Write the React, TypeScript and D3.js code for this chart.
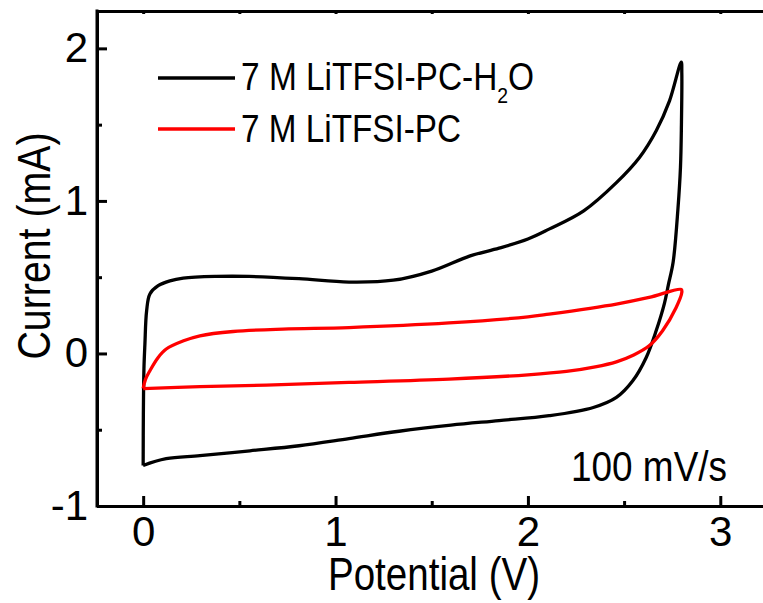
import React, { useEffect, useRef } from "react";
import * as d3 from "d3";

// 7 M LiTFSI-PC-H2O loop (potential in V, current in mA)
const h2oV = [0, 0.001, 0.004, 0.009, 0.018, 0.035, 0.078, 0.139, 0.208, 0.38, 0.55, 0.81, 1.07, 1.3, 1.5, 1.7, 1.85, 2.0, 2.11, 2.29, 2.46, 2.58, 2.667, 2.736, 2.797, 2.8, 2.798, 2.793, 2.78, 2.755, 2.73, 2.71, 2.667, 2.615, 2.545, 2.46, 2.34, 2.11, 1.85, 1.6, 1.33, 1.07, 0.81, 0.555, 0.295, 0.12, 0];
const h2oI = [-0.735, -0.4, -0.1, 0.06, 0.28, 0.39, 0.444, 0.476, 0.494, 0.505, 0.505, 0.49, 0.468, 0.48, 0.54, 0.64, 0.69, 0.75, 0.815, 0.935, 1.12, 1.285, 1.46, 1.656, 1.91, 1.84, 1.5, 1.22, 0.95, 0.6, 0.45, 0.33, 0.15, -0.026, -0.179, -0.288, -0.354, -0.408, -0.44, -0.47, -0.51, -0.558, -0.605, -0.638, -0.67, -0.69, -0.735];

// 7 M LiTFSI-PC loop
const pcV = [0, 0.012, 0.035, 0.078, 0.12, 0.21, 0.295, 0.468, 0.727, 1.07, 1.59, 2.0, 2.11, 2.46, 2.63, 2.797, 2.8, 2.77, 2.7, 2.63, 2.55, 2.46, 2.35, 2.2, 2.0, 1.59, 1.07, 0.64, 0.295, 0];
const pcI = [-0.23, -0.17, -0.113, -0.026, 0.029, 0.083, 0.116, 0.144, 0.16, 0.17, 0.2, 0.24, 0.258, 0.324, 0.367, 0.42, 0.4, 0.3, 0.149, 0.05, -0.01, -0.055, -0.088, -0.118, -0.14, -0.168, -0.19, -0.207, -0.218, -0.23];

const xMajor = [0, 1, 2, 3];
const xMinor = [0.5, 1.5, 2.5];
const yMajor = [-1, 0, 1, 2];
const yMinor = [-0.5, 0.5, 1.5];
const legendLabels = ["7 M LiTFSI-PC-H", "7 M LiTFSI-PC"];
const seriesColors = ["#000000", "#ff0000"];
const scanRate = "100 mV/s";

const font = "'Liberation Sans', Arial, Helvetica, sans-serif";

export default function App() {
  const svgRef = useRef<SVGSVGElement>(null);

  useEffect(() => {
    const width = 763;
    const height = 603;
    const svg = d3.select(svgRef.current);
    svg.selectAll("*").remove();

    const x = d3.scaleLinear().domain([-0.24, 3.3]).range([97, 778]);
    const y = d3.scaleLinear().domain([-1, 2.245]).range([506, 11]);

    const styleAxis = (g: any) => {
      g.attr("font-family", font).attr("font-size", 42);
      g.select(".domain").attr("stroke", "#000").attr("stroke-width", 3);
      g.selectAll(".tick line").attr("stroke", "#000").attr("stroke-width", 3);
      g.selectAll(".tick text").attr("fill", "#000");
    };

    // bottom axis
    svg.append("g")
      .attr("transform", `translate(0,${y.range()[0]})`)
      .call(d3.axisBottom(x).tickValues(xMajor).tickSize(-10).tickSizeOuter(0).tickPadding(10).tickFormat((d: any) => String(d)))
      .call(styleAxis);
    svg.append("g")
      .attr("transform", `translate(0,${y.range()[0]})`)
      .call(d3.axisBottom(x).tickValues(xMinor).tickSize(-5).tickSizeOuter(0).tickFormat(() => ""))
      .call(styleAxis)
      .call((g: any) => g.select(".domain").remove());

    // top axis
    svg.append("g")
      .attr("transform", `translate(0,${y.range()[1]})`)
      .call(d3.axisTop(x).tickValues([...xMajor, ...xMinor]).tickSize(-3).tickSizeOuter(0).tickFormat(() => ""))
      .call(styleAxis);

    // left axis
    svg.append("g")
      .attr("transform", `translate(${x.range()[0]},0)`)
      .call(d3.axisLeft(y).tickValues(yMajor).tickSize(-10).tickSizeOuter(0).tickPadding(9).tickFormat((d: any) => String(d)))
      .call(styleAxis);
    svg.append("g")
      .attr("transform", `translate(${x.range()[0]},0)`)
      .call(d3.axisLeft(y).tickValues(yMinor).tickSize(-5).tickSizeOuter(0).tickFormat(() => ""))
      .call(styleAxis)
      .call((g: any) => g.select(".domain").remove());

    // square off the frame corners
    svg.append("path")
      .attr("d", `M${x.range()[0]},${y.range()[0]}V${y.range()[1]}`)
      .attr("stroke", "#000").attr("stroke-width", 3).attr("stroke-linecap", "square");

    // curves
    const drawLoop = (vs: number[], is: number[], color: string) => {
      const line = d3.line<number>()
        .x(i => x(vs[i]))
        .y(i => y(is[i]))
        .curve(d3.curveCatmullRom.alpha(0.5));
      svg.append("path")
        .datum(d3.range(vs.length))
        .attr("fill", "none")
        .attr("stroke", color)
        .attr("stroke-width", 3.3)
        .attr("stroke-linejoin", "round")
        .attr("d", line);
    };
    drawLoop(h2oV, h2oI, seriesColors[0]);
    drawLoop(pcV, pcI, seriesColors[1]);

    // legend
    const legendY = [78, 129];
    legendY.forEach((ly, k) => {
      svg.append("line")
        .attr("x1", 158).attr("x2", 235)
        .attr("y1", ly).attr("y2", ly)
        .attr("stroke", seriesColors[k])
        .attr("stroke-width", 3.5);
    });
    const l1 = svg.append("g").attr("transform", "translate(241,90) scale(0.88,1)")
      .append("text")
      .attr("font-family", font)
      .attr("font-size", 38)
      .attr("fill", "#000");
    l1.append("tspan").text(legendLabels[0]);
    l1.append("tspan").attr("dy", 13).attr("font-size", 22).text("2");
    l1.append("tspan").attr("dy", -13).text("O");
    svg.append("g").attr("transform", "translate(241,141.5) scale(0.876,1)")
      .append("text")
      .attr("font-family", font)
      .attr("font-size", 38)
      .attr("fill", "#000")
      .text(legendLabels[1]);

    // scan rate note
    svg.append("text")
      .attr("x", 571).attr("y", 481)
      .attr("font-family", font)
      .attr("font-size", 42)
      .attr("textLength", 156)
      .attr("lengthAdjust", "spacingAndGlyphs")
      .text(scanRate);

    // axis titles
    svg.append("text")
      .attr("x", 434).attr("y", 590)
      .attr("text-anchor", "middle")
      .attr("font-family", font)
      .attr("font-size", 46)
      .attr("textLength", 212)
      .attr("lengthAdjust", "spacingAndGlyphs")
      .text("Potential (V)");
    svg.append("text")
      .attr("transform", "translate(50,246) rotate(-90)")
      .attr("text-anchor", "middle")
      .attr("font-family", font)
      .attr("font-size", 47)
      .attr("textLength", 227)
      .attr("lengthAdjust", "spacingAndGlyphs")
      .text("Current (mA)");

    svg.attr("width", width).attr("height", height);
  }, []);

  return (
    <svg
      ref={svgRef}
      width={763}
      height={603}
      style={{ position: "absolute", left: 0, top: 0, display: "block", background: "#fff" }}
    />
  );
}
